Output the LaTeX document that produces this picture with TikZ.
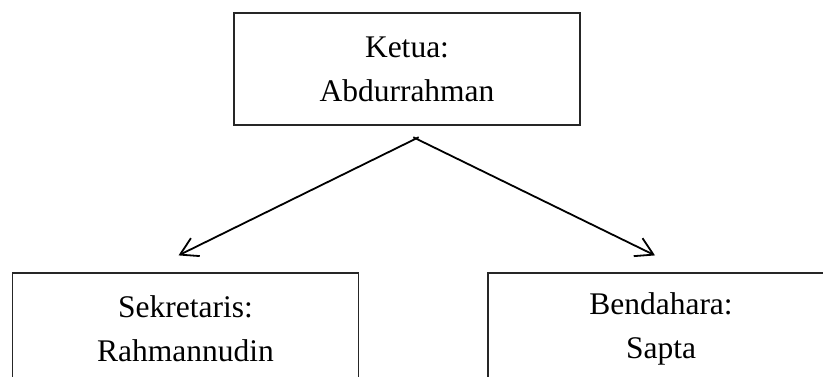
\documentclass[tikz,border=0pt]{standalone}
\usepackage{fontspec}
\setmainfont{Liberation Serif}
\usetikzlibrary{arrows.meta, positioning}

\begin{document}
\begin{tikzpicture}[x=1pt, y=1pt,
                    org_box/.style={rectangle, draw=black!85, line width=1.2pt, minimum width=346pt, minimum height=112pt, inner sep=0pt, align=center, font=\fontsize{31.5}{44}\selectfont},
                    org_arrow/.style={-{Straight Barb[length=17pt, width=20pt, line width=1.8pt]}, line width=1.8pt, shorten <=-3pt}
                ]
                    \clip (0,0) rectangle (823,376);
                    \node[org_box] (ketua) at (407,307) {Ketua:\\Abdurrahman};
                    \node[org_box] (sekretaris) at (185.5,47) {Sekretaris:\\Rahmannudin};
                    \node[org_box] (bendahara) at (661,47) {Bendahara:\\Sapta};
                    % titik cabang dan ujung panah
                    \coordinate[below=13pt of ketua.south, xshift=9pt] (cabang);
                    \coordinate[above=17pt of sekretaris.north, xshift=-7pt] (ujung_sekretaris);
                    \coordinate[above=17pt of bendahara.north, xshift=-6pt] (ujung_bendahara);
                    \draw[org_arrow] (cabang) -- (ujung_sekretaris);
                    \draw[org_arrow] (cabang) -- (ujung_bendahara);
                \end{tikzpicture}
\end{document}
